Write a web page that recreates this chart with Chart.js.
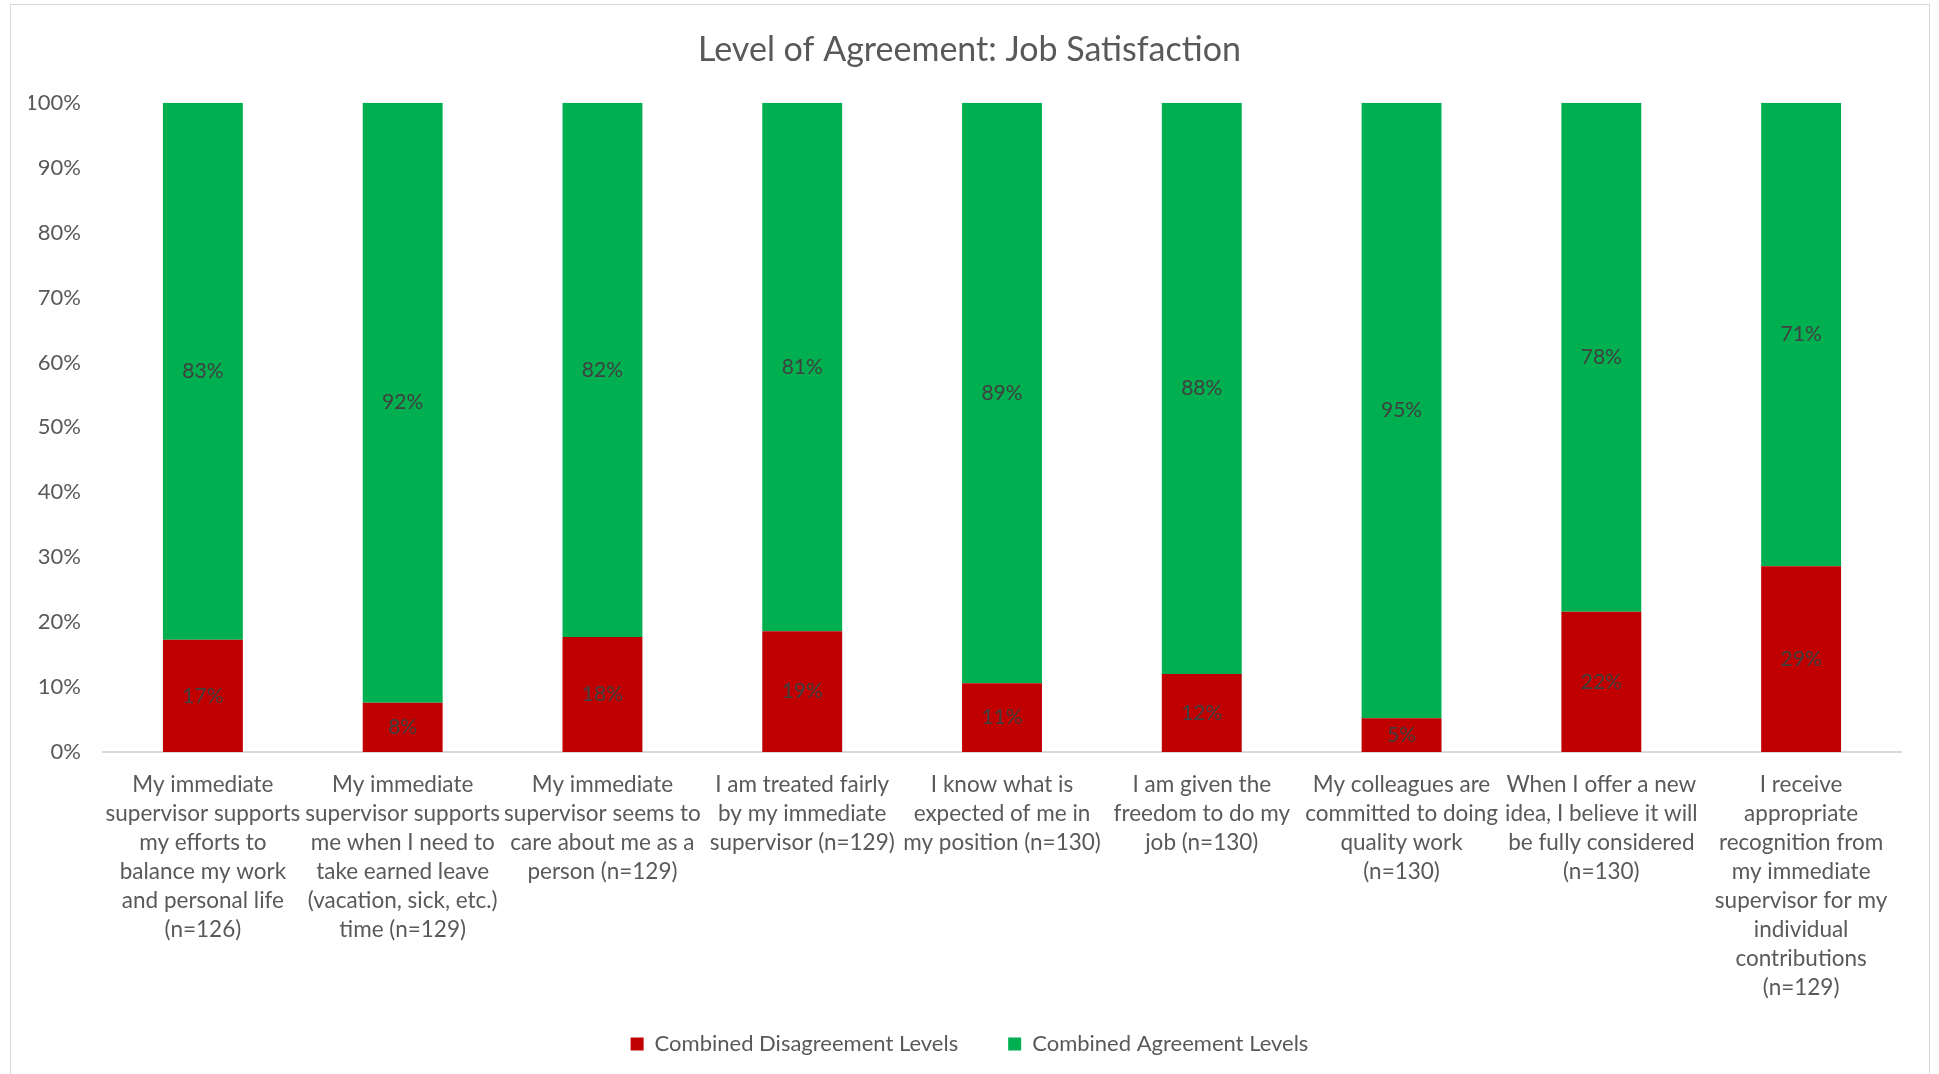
<!DOCTYPE html>
<html>
<head>
<meta charset="utf-8">
<script src="https://cdn.jsdelivr.net/npm/chart.js@4.4.1/dist/chart.umd.min.js"></script>
<style>
  html, body { margin: 0; padding: 0; background: #ffffff; overflow: hidden; }
  #wrap { position: relative; width: 1939px; height: 1074px; }
  #frame { position: absolute; left: 10px; top: 4px; width: 1918px; height: 1100px; border: 1.5px solid #d9d9d9; pointer-events: none; }
  canvas { position: absolute; left: 0; top: 0; }
</style>
</head>
<body>
<div id="wrap">
  <canvas id="c" width="1939" height="1074"></canvas>
  <div id="frame"></div>
</div>
<script>
const chartTitle = "Level of Agreement: Job Satisfaction";
const categories = [
  ["My immediate", "supervisor supports", "my efforts to", "balance my work", "and personal life", "(n=126)"],
  ["My immediate", "supervisor supports", "me when I need to", "take earned leave", "(vacation, sick, etc.)", "time (n=129)"],
  ["My immediate", "supervisor seems to", "care about me as a", "person (n=129)"],
  ["I am treated fairly", "by my immediate", "supervisor (n=129)"],
  ["I know what is", "expected of me in", "my position (n=130)"],
  ["I am given the", "freedom to do my", "job (n=130)"],
  ["My colleagues are", "committed to doing", "quality work", "(n=130)"],
  ["When I offer a new", "idea, I believe it will", "be fully considered", "(n=130)"],
  ["I receive", "appropriate", "recognition from", "my immediate", "supervisor for my", "individual", "contributions", "(n=129)"]
];
const seriesNames = ["Combined Disagreement Levels", "Combined Agreement Levels"];
const disagreement = [17.3, 7.6, 17.7, 18.6, 10.6, 12.0, 5.2, 21.6, 28.6];
const agreement = [82.7, 92.4, 82.3, 81.4, 89.4, 88.0, 94.8, 78.4, 71.4];
const yTickStep = 10;

const FONT = "Lato, 'Liberation Sans', sans-serif";
const TXT = "#595959";

const labelPlugin = {
  id: 'segLabels',
  afterLayout(chart) {
    // let multi-line category labels run below the fixed-height axis box
    chart.scales.x._computeLabelArea = () => undefined;
  },
  afterDatasetsDraw(chart) {
    const ctx = chart.ctx;
    ctx.save();
    ctx.font = "21px " + FONT;
    ctx.fillStyle = "#404040";
    ctx.textAlign = "center";
    ctx.textBaseline = "middle";
    chart.data.datasets.forEach((ds, di) => {
      const meta = chart.getDatasetMeta(di);
      meta.data.forEach((bar, i) => {
        const v = ds.data[i];
        const y = (bar.y + bar.base) / 2;
        ctx.fillText(Math.round(v) + "%", bar.x, y);
      });
    });
    ctx.restore();
  }
};

new Chart(document.getElementById('c'), {
  type: 'bar',
  data: {
    labels: categories,
    datasets: [
      { label: seriesNames[0], data: disagreement, backgroundColor: '#c00000', borderWidth: 0 },
      { label: seriesNames[1], data: agreement, backgroundColor: '#00b050', borderWidth: 0 }
    ]
  },
  options: {
    responsive: false,
    animation: false,
    devicePixelRatio: 1,
    layout: { padding: { left: 29, right: 29, top: 4, bottom: 9 } },
    datasets: { bar: { categoryPercentage: 1.0, barPercentage: 0.4 } },
    scales: {
      x: {
        stacked: true,
        grid: { display: false, drawTicks: false },
        border: { display: true, color: '#d9d9d9', width: 2 },
        ticks: { color: TXT, font: { family: FONT, size: 22.5, lineHeight: '29px' }, maxRotation: 0, minRotation: 0, autoSkip: false, padding: 18 },
        afterFit(scale) { scale.height = 231; }
      },
      y: {
        stacked: true,
        min: 0, max: 100,
        grid: { display: false, drawTicks: false },
        border: { display: false },
        ticks: { stepSize: yTickStep, color: TXT, font: { family: FONT, size: 22 }, padding: 22, callback: v => v + '%' },
        afterFit(scale) { scale.width = 74; }
      },
      yRight: {
        position: 'right',
        display: true,
        min: 0, max: 100,
        grid: { display: false, drawTicks: false },
        border: { display: false },
        ticks: { display: false },
        afterFit(scale) { scale.width = 9; }
      }
    },
    plugins: {
      title: { display: true, text: chartTitle, color: TXT, font: { family: FONT, size: 34, weight: 'normal' }, padding: { top: 26, bottom: 32 } },
      legend: {
        position: 'bottom',
        labels: { color: TXT, font: { family: FONT, size: 22 }, boxWidth: 13, boxHeight: 13, padding: 50 }
      },
      tooltip: { enabled: false }
    }
  },
  plugins: [labelPlugin]
});
</script>
</body>
</html>
